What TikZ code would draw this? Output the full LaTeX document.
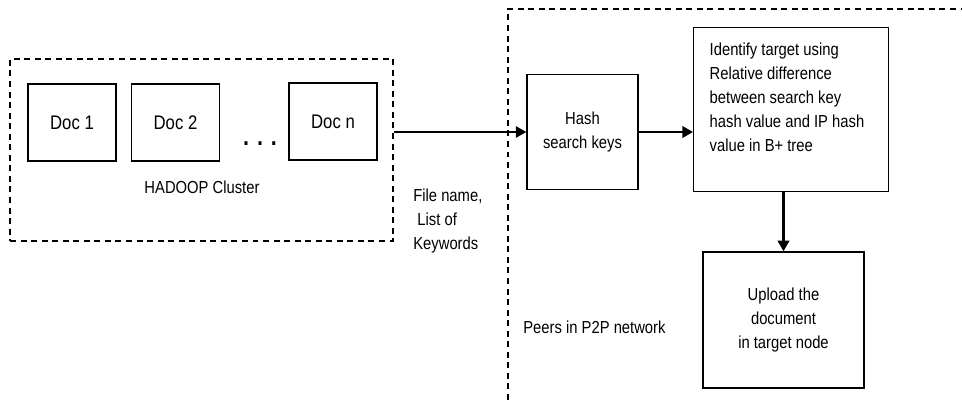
\documentclass[tikz,border=0pt]{standalone}
\usepackage{fontspec}
\setmainfont{Liberation Sans}[FakeStretch=0.85]
\usetikzlibrary{shapes, arrows.meta, positioning, calc}

\tikzset{
    docbox/.style={draw, line width=0.8pt, minimum width=1.76cm, minimum height=1.54cm, font=\fontsize{11.2}{13.7}\selectfont},
    stepbox/.style={draw, line width=0.8pt, inner sep=0pt, font=\fontsize{9.9}{13.7}\selectfont},
    txt/.style={inner sep=0pt, font=\fontsize{9.9}{13.7}\selectfont},
    dashbox/.style={line width=0.8pt, dash pattern=on 3.4pt off 2.6pt},
    flow/.style={-{Triangle[length=6pt, width=6.5pt]}, line width=1.2pt}
}

\begin{document}
\begin{tikzpicture}
    \useasboundingbox (0, 0) rectangle (19.24, 8);

    % HADOOP cluster
    \node[draw, dashbox, minimum width=7.66cm, minimum height=3.64cm] (cluster) at (4.03, 5) {};
    \node[docbox] (doc1) at (1.44, 5.55) {Doc 1};
    \node[docbox] (doc2) at (3.51, 5.55) {Doc 2};
    \node[docbox] (docn) at (6.66, 5.57) {Doc n};
    \node[font=\bfseries\Large, inner sep=0pt] (dots) at (5.2, 5.12) {. . .};
    \node[txt] (hadoop) at (4.04, 4.26) {HADOOP Cluster};

    % P2P network region
    \coordinate (p2pa) at (10.16, 0);
    \coordinate (p2pb) at (10.16, 7.82);
    \coordinate (p2pc) at (19.24, 7.82);
    \draw[dashbox] (p2pa) -- (p2pb) -- (p2pc);

    % Steps
    \node[stepbox, minimum width=2.22cm, minimum height=2.3cm, align=center] (hash) at (11.65, 5.36) {Hash\\search keys};
    \node[stepbox, anchor=north west] (target) at (13.86, 7.46)
        {\parbox[t][3.28cm][t]{3.9cm}{\vspace{0.3cm}\hspace*{0.32cm}\parbox[t]{3.55cm}{\raggedright
        Identify target using\\Relative difference\\between search key\\hash value and IP hash\\value in B+ tree}}};
    \node[stepbox, minimum width=3.22cm, minimum height=2.72cm, align=center] (upload) at (15.67, 1.6)
        {Upload the\\document\\in target node};

    % Labels
    \node[txt, anchor=north west, align=left] (files) at (8.26, 4.23) {File name,\\\ List of\\Keywords};
    \node[txt, anchor=west] (peers) at (10.46, 1.46) {Peers in P2P network};

    % Arrows
    \draw[flow] (cluster.east |- hash.west) -- (hash.west);
    \draw[flow] (hash.east) -- (hash.east -| target.west);
    \draw[flow] (upload.north |- target.south) -- (upload.north);
\end{tikzpicture}
\end{document}
